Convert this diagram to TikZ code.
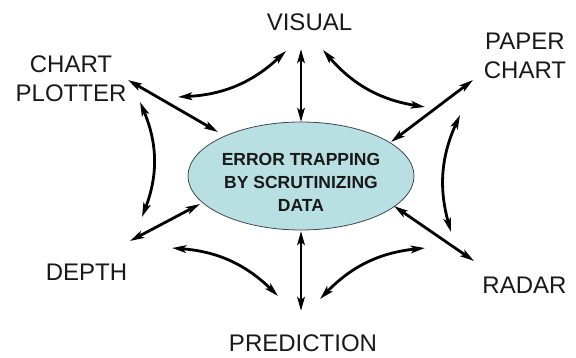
\documentclass[tikz,border=0pt]{standalone}
\usepackage{fontspec}
\setmainfont{Liberation Sans}
\usetikzlibrary{arrows.meta,shapes.geometric}
\definecolor{ellfill}{HTML}{B8DFE2}
\definecolor{elldraw}{HTML}{3C4A4C}
\begin{document}
\begin{tikzpicture}[x=1pt,y=-1pt,
  lab/.style={font=\fontsize{24}{29}\selectfont, inner sep=0pt, align=center, text=black!90},
  dblarrow/.style={line width=2.8pt, {Stealth[length=14pt,width=7.5pt,inset=3pt]}-{Stealth[length=14pt,width=7.5pt,inset=3pt]}},
  core/.style={ellipse, draw=elldraw, line width=0.8pt, fill=ellfill, minimum width=226pt, minimum height=108pt, inner sep=0pt},
  coretext/.style={font=\bfseries\fontsize{17.5}{23}\selectfont, align=center, inner sep=0pt, text=black!90}]
\useasboundingbox (0,0) rectangle (576,358);
% central ellipse
\node[core] (ell) at (301,176) {};
\node[coretext] (elltxt) at (301,182.5) {ERROR TRAPPING\\BY SCRUTINIZING\\DATA};
% labels
\node[lab, anchor=base] (visual) at (309.5,31) {VISUAL};
\node[lab] (paper) at (525,56) {PAPER\\CHART};
\node[lab] (plotter) at (71,78.5) {CHART\\PLOTTER};
\node[lab, anchor=base] (depth) at (86.5,281) {DEPTH};
\node[lab, anchor=base] (radar) at (524.5,294) {RADAR};
\node[lab, anchor=base] (pred) at (303,352) {PREDICTION};
% arrow end points
\coordinate (vT) at (301,49);   \coordinate (vB) at (301,122);
\coordinate (pT) at (301,231);  \coordinate (pB) at (301,311);
\coordinate (cpA) at (128,80);  \coordinate (cpB) at (218,132);
\coordinate (pcA) at (473,80);  \coordinate (pcB) at (391,142);
\coordinate (dA) at (130,241);  \coordinate (dB) at (200,204);
\coordinate (rA) at (394,206);  \coordinate (rB) at (474,261);
\coordinate (c1a) at (178,97);  \coordinate (c1b) at (286,51);
\coordinate (c2a) at (323,50);  \coordinate (c2b) at (425,107);
\coordinate (c3a) at (460,115); \coordinate (c3b) at (451,232);
\coordinate (c4a) at (425,248); \coordinate (c4b) at (320,299);
\coordinate (c5a) at (172,248); \coordinate (c5b) at (278,296);
\coordinate (c6a) at (140,102); \coordinate (c6b) at (142,217);
% straight connectors
\draw[dblarrow] (vT) -- (vB);
\draw[dblarrow] (pT) -- (pB);
\draw[dblarrow] (cpA) -- (cpB);
\draw[dblarrow] (pcA) -- (pcB);
\draw[dblarrow] (dA) -- (dB);
\draw[dblarrow] (rA) -- (rB);
% curved connectors
\draw[dblarrow] (c1a) to[bend right=20] (c1b);
\draw[dblarrow] (c2a) to[bend right=20] (c2b);
\draw[dblarrow] (c3a) to[bend right=20] (c3b);
\draw[dblarrow] (c4a) to[bend right=20] (c4b);
\draw[dblarrow] (c5a) to[bend left=20] (c5b);
\draw[dblarrow] (c6a) to[bend left=22] (c6b);
\end{tikzpicture}
\end{document}
